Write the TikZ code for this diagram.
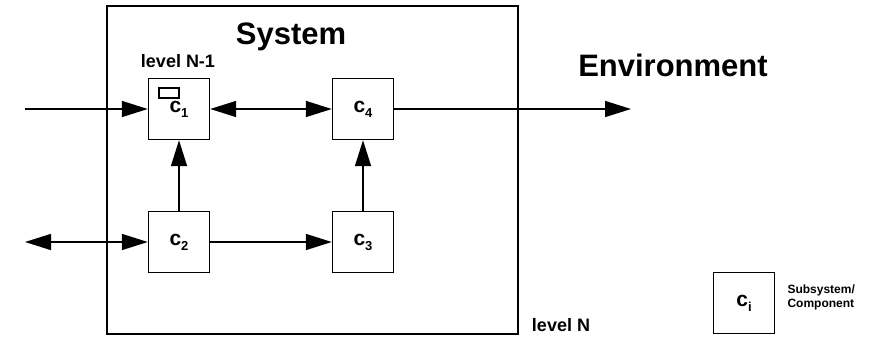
\documentclass[tikz,border=0pt]{standalone}
\usepackage{fontspec}
\setmainfont{Liberation Sans}
\usetikzlibrary{arrows.meta,positioning}

\newcommand{\compsub}[1]{c\raisebox{-5pt}{\fontsize{13}{13}\selectfont #1}}

\tikzset{
  comp/.style={draw, line width=1.4pt, minimum size=61pt, inner sep=0pt,
    font=\fontsize{21}{21}\selectfont\bfseries},
  flow/.style={line width=1.6pt, -{Triangle[length=26pt,width=16pt]}},
  bothflow/.style={line width=1.6pt,
    {Triangle[length=26pt,width=16pt]}-{Triangle[length=26pt,width=16pt]}},
  title/.style={anchor=base, font=\fontsize{31}{31}\selectfont\bfseries},
  levellabel/.style={anchor=base, font=\fontsize{18}{18}\selectfont\bfseries},
}

\begin{document}
\begin{tikzpicture}[x=1pt,y=-1pt]
\useasboundingbox (0,0) rectangle (883,337);

% system boundary
\node[draw, line width=1.8pt, minimum width=411, minimum height=328, inner sep=0pt] (sys) at (312.5,170) {};
\node[title] (systxt) at (291,45) {System};
\node[levellabel] (lvlinner) at (178,67) {level N-1};
\node[levellabel] (lvlouter) at (561,331) {level N};
\node[title] (envtxt) at (673,77) {Environment};

% components
\node[comp] (c1) at (179,109) {\compsub{1}};
\node[comp] (c4) at (363,109) {\compsub{4}};
\node[comp] (c2) at (179,242) {\compsub{2}};
\node[comp] (c3) at (363,242) {\compsub{3}};
\node[draw, line width=1.2pt, minimum width=20pt, minimum height=10pt, inner sep=0pt] (mark) at (169,93) {};

% connections
\coordinate (in1) at (25,109);
\coordinate (in2) at (25,242);
\coordinate (out) at (631,109);
\draw[flow] (in1) -- (c1);
\draw[bothflow] (c1) -- (c4);
\draw[flow] (c4) -- (out);
\draw[bothflow] (in2) -- (c2);
\draw[flow] (c2) -- (c3);
\draw[flow] (c2) -- (c1);
\draw[flow] (c3) -- (c4);

% legend
\node[comp] (ci) at (744,303) {\compsub{i}};
\node[anchor=west, align=left, font=\fontsize{12}{14}\selectfont\bfseries] (citxt) at (784,297) {Subsystem/\\Component};
\end{tikzpicture}
\end{document}
